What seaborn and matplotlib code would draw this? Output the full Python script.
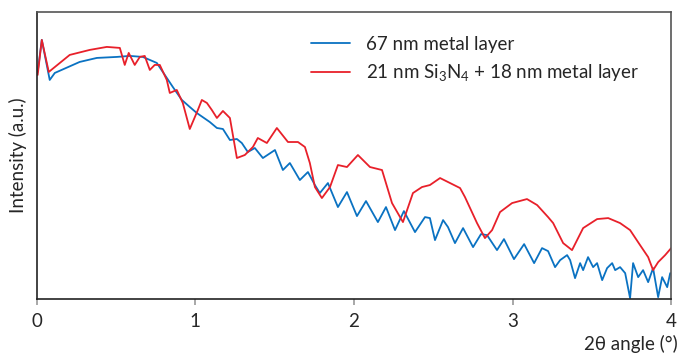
import pandas as pd
import matplotlib
matplotlib.use("Agg")
import matplotlib.pyplot as plt
import seaborn as sns

# XRR curves (x = 2theta in degrees, y = intensity a.u.)
blue_x = [0.006, 0.032, 0.082, 0.114, 0.271, 0.379, 0.505, 0.587, 0.669, 0.713,
          0.757, 0.795, 0.858, 0.915, 0.965, 1.009, 1.091, 1.136, 1.174, 1.218,
          1.262, 1.293, 1.331, 1.375, 1.426, 1.502, 1.552, 1.596, 1.659, 1.710,
          1.754, 1.785, 1.836, 1.899, 1.956, 2.019, 2.076, 2.151, 2.202, 2.259,
          2.315, 2.385, 2.448, 2.479, 2.511, 2.562, 2.593, 2.637, 2.688, 2.751,
          2.801, 2.839, 2.902, 2.946, 3.009, 3.073, 3.136, 3.186, 3.224, 3.268,
          3.300, 3.344, 3.363, 3.394, 3.426, 3.445, 3.476, 3.508, 3.533, 3.565,
          3.596, 3.628, 3.647, 3.678, 3.710, 3.741, 3.760, 3.792, 3.823, 3.855,
          3.886, 3.918, 3.943, 3.975, 3.994]
blue_y = [227, 259, 219, 226, 237, 241, 242, 243, 242, 239,
          236, 227, 212, 199, 192, 186, 177, 171, 170, 159,
          160, 156, 147, 151, 141, 149, 129, 136, 119, 127,
          114, 106, 116, 92, 107, 83, 98, 77, 92, 69,
          88, 67, 82, 81, 59, 79, 72, 56, 71, 52,
          65, 64, 49, 60, 40, 55, 36, 51, 48, 32,
          39, 44, 39, 21, 36, 29, 42, 32, 36, 19,
          31, 36, 29, 32, 26, 1, 36, 22, 29, 17,
          31, 2, 22, 12, 26]

red_x = [0.006, 0.032, 0.076, 0.208, 0.334, 0.442, 0.524, 0.555, 0.580, 0.618,
         0.650, 0.681, 0.713, 0.744, 0.776, 0.820, 0.839, 0.883, 0.921, 0.965,
         1.016, 1.041, 1.073, 1.104, 1.136, 1.174, 1.218, 1.262, 1.312, 1.363,
         1.394, 1.451, 1.514, 1.584, 1.647, 1.691, 1.722, 1.754, 1.798, 1.849,
         1.899, 1.956, 2.025, 2.101, 2.177, 2.240, 2.309, 2.372, 2.429, 2.479,
         2.543, 2.606, 2.669, 2.700, 2.776, 2.826, 2.871, 2.921, 2.997, 3.091,
         3.155, 3.224, 3.256, 3.319, 3.375, 3.445, 3.533, 3.603, 3.678, 3.741,
         3.804, 3.855, 3.886, 3.918, 3.962, 4.000]
red_y = [224, 259, 227, 244, 249, 252, 251, 234, 246, 234,
         242, 243, 229, 234, 234, 219, 206, 209, 196, 170,
         189, 199, 196, 189, 181, 188, 181, 141, 144, 152,
         161, 156, 171, 157, 157, 152, 136, 112, 101, 112,
         134, 132, 144, 132, 129, 96, 77, 106, 112, 114,
         121, 116, 111, 102, 76, 61, 69, 87, 96, 100,
         94, 82, 76, 56, 49, 71, 80, 81, 76, 69,
         54, 42, 29, 37, 44, 51]

series = ["67 nm metal layer", "21 nm Si$_3$N$_4$ + 18 nm metal layer"]
colors = ["#0a72c2", "#e8202a"]

df = pd.concat([
    pd.DataFrame({"angle": blue_x, "intensity": blue_y, "sample": series[0]}),
    pd.DataFrame({"angle": red_x, "intensity": red_y, "sample": series[1]}),
])

sns.set_style("white")
plt.rcParams["font.family"] = ["Lato", "DejaVu Sans"]
plt.rcParams["mathtext.default"] = "regular"

fig = plt.figure(figsize=(6.8, 3.6), dpi=100)
ax = fig.add_axes([0.054, 0.169, 0.933, 0.798])

sns.lineplot(data=df, x="angle", y="intensity", hue="sample", hue_order=series,
             palette=colors, estimator=None, sort=False, linewidth=1.3, ax=ax)

fs = 13.5
ax.set_xlim(0, 4)
ax.set_ylim(0, 287)
ax.set_xticks([0, 1, 2, 3, 4])
ax.set_xticklabels(["0", "1", "2", "3", "4"], fontsize=fs)
ax.set_yticks([])
ax.tick_params(axis="x", direction="out", length=4, width=1.2, color="#999999",
               pad=6, bottom=True)
ax.set_xlabel("")
ax.set_ylabel("Intensity (a.u.)", fontsize=fs, labelpad=7)

for side in ["left", "bottom"]:
    ax.spines[side].set_color("#222222")
    ax.spines[side].set_linewidth(1.2)
for side in ["top", "right"]:
    ax.spines[side].set_color("#555555")
    ax.spines[side].set_linewidth(1.2)

fig.text(0.997, 0.02, "2\u03b8 angle (\u00b0)", ha="right", va="bottom",
         fontsize=fs)

leg = ax.legend(loc="upper left", bbox_to_anchor=(0.405, 0.975), frameon=False,
                fontsize=fs, handlelength=2.1, handletextpad=0.85,
                labelspacing=0.5)
for line in leg.get_lines():
    line.set_linewidth(1.3)

fig.savefig("out.png", dpi=100)
